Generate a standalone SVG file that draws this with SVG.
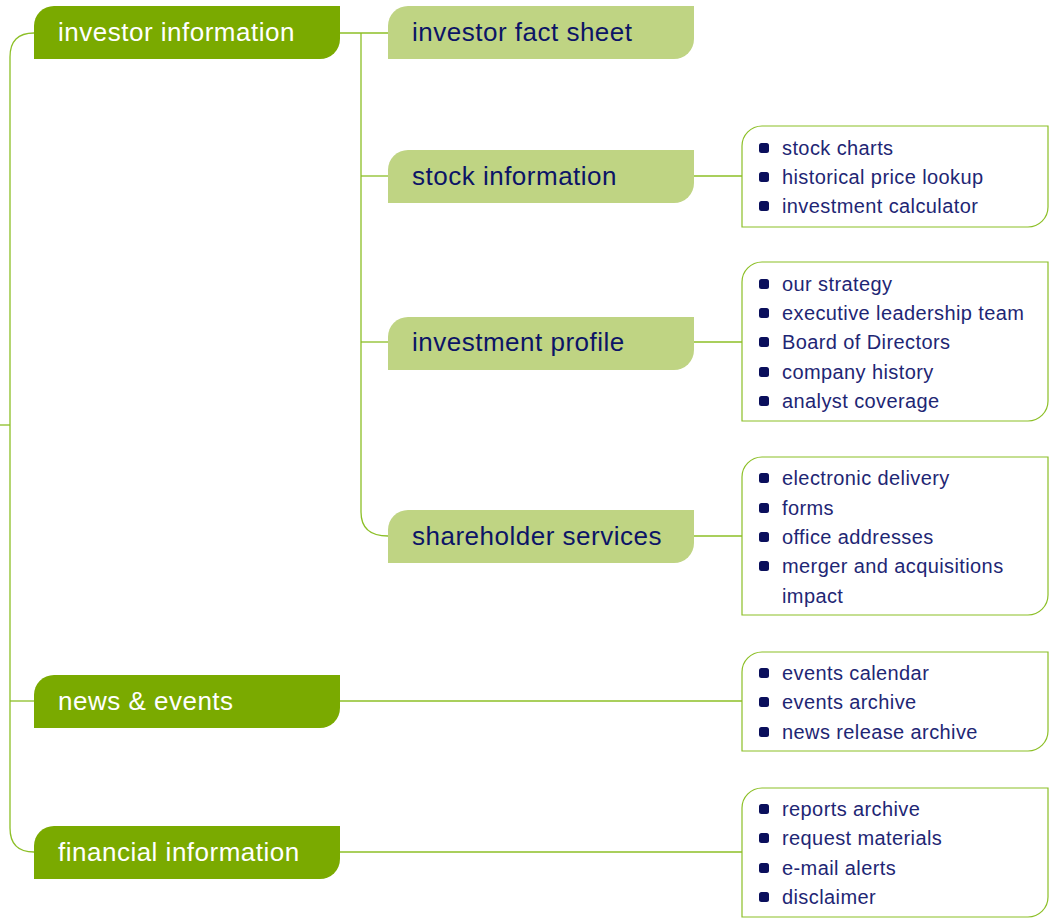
<svg xmlns="http://www.w3.org/2000/svg" width="1054" height="918" viewBox="0 0 1054 918">
  <style>
    .main { fill: #7aaa00; }
    .sub { fill: #bfd483; }
    .list { fill: #ffffff; stroke: #8cbf26; stroke-width: 1.2; }
    .wire { fill: none; stroke: #8cbf26; stroke-width: 1.3; }
    .tmain { font-family: "Liberation Sans", Arial, sans-serif; font-size: 26px; letter-spacing: 0.5px; fill: #ffffff; }
    .tsub { font-family: "Liberation Sans", Arial, sans-serif; font-size: 26px; letter-spacing: 0.5px; fill: #0c1466; }
    .titem { font-family: "Liberation Sans", Arial, sans-serif; font-size: 20px; letter-spacing: 0.4px; fill: #1e2674; }
    .dot { fill: #0a0f5c; }
  </style>
  <defs>
    <!-- tab: top-left and bottom-right corners rounded -->
    <path id="tab" d="M20,0 H306 V33 A20,20 0 0 1 286,53 H0 V20 A20,20 0 0 1 20,0 Z"/>
    <rect id="bul" x="0" y="0" width="10" height="10" rx="2.5"/>
  </defs>

  <g id="connectors">
    <path class="wire" d="M34,33 Q10,33 10,57 V828 Q10,852 34,852"/>
    <path class="wire" d="M0,425 H10"/>
    <path class="wire" d="M10,701 H34"/>
    <path class="wire" d="M340,33 H388"/>
    <path class="wire" d="M361,33 V512 Q361,536 388,536"/>
    <path class="wire" d="M361,176 H388"/>
    <path class="wire" d="M361,342 H388"/>
    <path class="wire" d="M694,176 H742"/>
    <path class="wire" d="M694,342 H742"/>
    <path class="wire" d="M694,536 H742"/>
    <path class="wire" d="M340,701 H742"/>
    <path class="wire" d="M340,852 H742"/>
  </g>

  <g id="investor-information">
    <use href="#tab" class="main" x="34" y="6"/>
    <text class="tmain" x="58" y="41">investor information</text>
  </g>
  <g id="investor-fact-sheet">
    <use href="#tab" class="sub" x="388" y="6"/>
    <text class="tsub" x="412" y="41">investor fact sheet</text>
  </g>
  <g id="stock-information">
    <use href="#tab" class="sub" x="388" y="150"/>
    <text class="tsub" x="412" y="185">stock information</text>
  </g>
  <g id="investment-profile">
    <use href="#tab" class="sub" x="388" y="317"/>
    <text class="tsub" x="412" y="351">investment profile</text>
  </g>
  <g id="shareholder-services">
    <use href="#tab" class="sub" x="388" y="510"/>
    <text class="tsub" x="412" y="545">shareholder services</text>
  </g>
  <g id="news-events">
    <use href="#tab" class="main" x="34" y="675"/>
    <text class="tmain" x="58" y="710">news &amp; events</text>
  </g>
  <g id="financial-information">
    <use href="#tab" class="main" x="34" y="826"/>
    <text class="tmain" x="58" y="861">financial information</text>
  </g>

  <g id="stock-list">
    <path class="list" d="M762,126 H1048 V207 A20,20 0 0 1 1028,227 H742 V146 A20,20 0 0 1 762,126 Z"/>
    <use href="#bul" class="dot" x="759" y="143"/><text class="titem" x="782" y="155">stock charts</text>
    <use href="#bul" class="dot" x="759" y="172"/><text class="titem" x="782" y="184">historical price lookup</text>
    <use href="#bul" class="dot" x="759" y="201"/><text class="titem" x="782" y="213">investment calculator</text>
  </g>
  <g id="profile-list">
    <path class="list" d="M762,262 H1048 V401 A20,20 0 0 1 1028,421 H742 V282 A20,20 0 0 1 762,262 Z"/>
    <use href="#bul" class="dot" x="759" y="279"/><text class="titem" x="782" y="291">our strategy</text>
    <use href="#bul" class="dot" x="759" y="308"/><text class="titem" x="782" y="320">executive leadership team</text>
    <use href="#bul" class="dot" x="759" y="337"/><text class="titem" x="782" y="349">Board of Directors</text>
    <use href="#bul" class="dot" x="759" y="367"/><text class="titem" x="782" y="379">company history</text>
    <use href="#bul" class="dot" x="759" y="396"/><text class="titem" x="782" y="408">analyst coverage</text>
  </g>
  <g id="shareholder-list">
    <path class="list" d="M762,457 H1048 V595 A20,20 0 0 1 1028,615 H742 V477 A20,20 0 0 1 762,457 Z"/>
    <use href="#bul" class="dot" x="759" y="473"/><text class="titem" x="782" y="485">electronic delivery</text>
    <use href="#bul" class="dot" x="759" y="503"/><text class="titem" x="782" y="515">forms</text>
    <use href="#bul" class="dot" x="759" y="532"/><text class="titem" x="782" y="544">office addresses</text>
    <use href="#bul" class="dot" x="759" y="561"/><text class="titem" x="782" y="573">merger and acquisitions</text>
    <text class="titem" x="782" y="603">impact</text>
  </g>
  <g id="news-list">
    <path class="list" d="M762,652 H1048 V731 A20,20 0 0 1 1028,751 H742 V672 A20,20 0 0 1 762,652 Z"/>
    <use href="#bul" class="dot" x="759" y="668"/><text class="titem" x="782" y="680">events calendar</text>
    <use href="#bul" class="dot" x="759" y="697"/><text class="titem" x="782" y="709">events archive</text>
    <use href="#bul" class="dot" x="759" y="727"/><text class="titem" x="782" y="739">news release archive</text>
  </g>
  <g id="financial-list">
    <path class="list" d="M762,788 H1048 V897 A20,20 0 0 1 1028,917 H742 V808 A20,20 0 0 1 762,788 Z"/>
    <use href="#bul" class="dot" x="759" y="804"/><text class="titem" x="782" y="816">reports archive</text>
    <use href="#bul" class="dot" x="759" y="833"/><text class="titem" x="782" y="845">request materials</text>
    <use href="#bul" class="dot" x="759" y="863"/><text class="titem" x="782" y="875">e-mail alerts</text>
    <use href="#bul" class="dot" x="759" y="892"/><text class="titem" x="782" y="904">disclaimer</text>
  </g>
</svg>
